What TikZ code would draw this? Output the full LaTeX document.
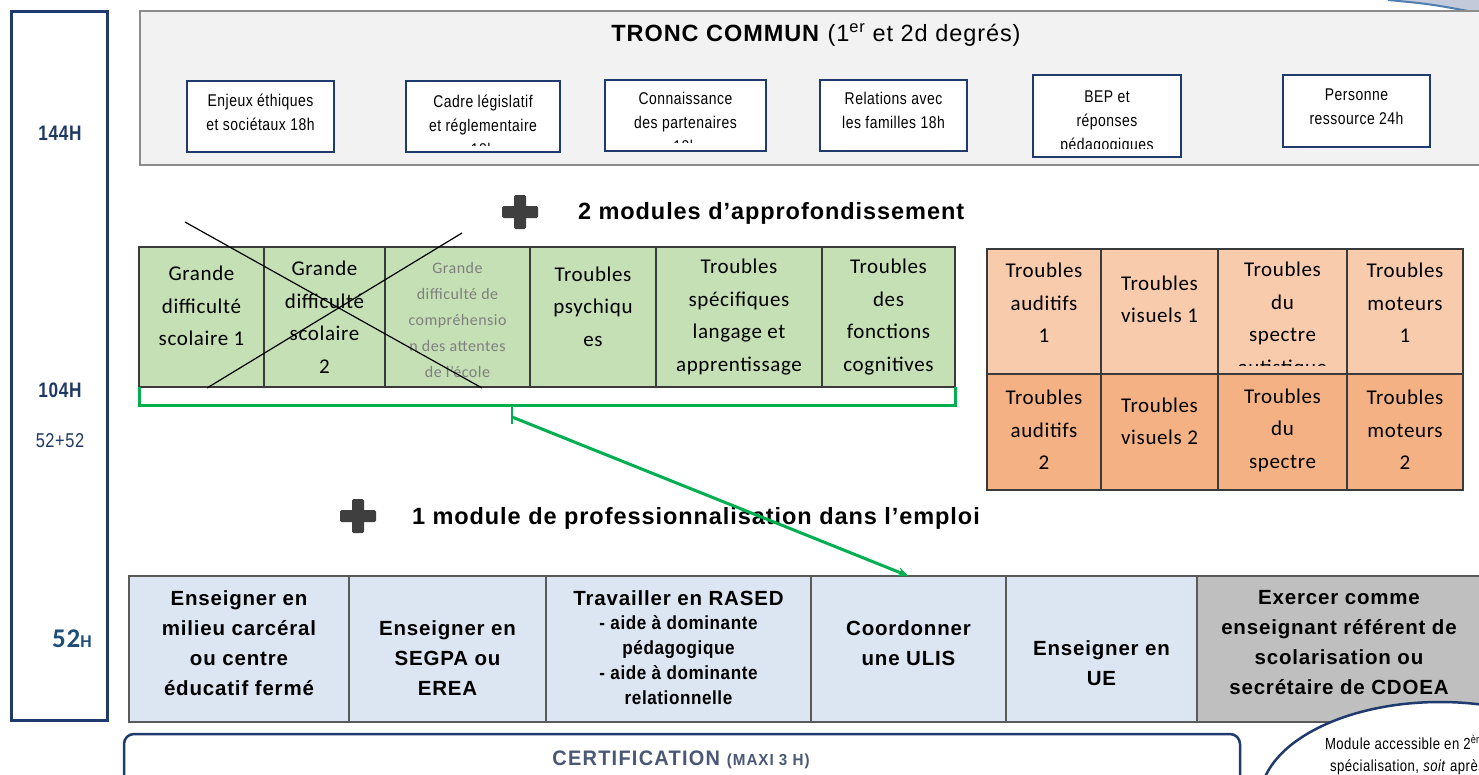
\documentclass[tikz,border=0pt]{standalone}
\usepackage{fontspec}
\usetikzlibrary{arrows.meta,shapes.geometric}
\setmainfont{Liberation Sans}
\newfontfamily\arsp[LetterSpace=4]{Liberation Sans}
\newfontfamily\arnar[FakeStretch=0.82,LetterSpace=3]{Liberation Sans}
\newfontfamily\arnarB[FakeStretch=0.9,LetterSpace=3]{Liberation Sans}
\newfontfamily\arwide[FakeStretch=0.95,LetterSpace=6]{Liberation Sans}
\newfontfamily\calib[LetterSpace=3]{Carlito}
\definecolor{cNavy}{HTML}{1F3A6E}
\definecolor{cGrayLine}{HTML}{8C8C8C}
\definecolor{cGrayFill}{HTML}{F2F2F2}
\definecolor{cGreen}{HTML}{C5E0B4}
\definecolor{cGreenLine}{HTML}{00B050}
\definecolor{cOrA}{HTML}{F8CBAD}
\definecolor{cOrB}{HTML}{F4B183}
\definecolor{cBlueCell}{HTML}{DCE6F2}
\definecolor{cGrayCell}{HTML}{BFBFBF}
\definecolor{cCellLine}{HTML}{3A3A3A}
\definecolor{cBCellLine}{HTML}{5A5A5A}
\definecolor{cPlus}{HTML}{3F3F3F}
\definecolor{cCert}{HTML}{4A5875}
\definecolor{cHour}{HTML}{1F3864}
\definecolor{cFiftyTwo}{HTML}{1F4E79}
\definecolor{cCornerFill}{HTML}{C3CAD9}
\definecolor{cCornerLine}{HTML}{4F7FB0}
\definecolor{cGrayText}{HTML}{7F7F7F}
\begin{document}
\begin{tikzpicture}[x=1pt,y=-1pt,
  every node/.style={inner sep=0pt,outer sep=0pt},
  hrbox/.style={draw=cNavy,line width=3pt,fill=white,anchor=north west},
  hrtext/.style={text=cHour,font=\arnar\bfseries\fontsize{21}{24}\selectfont},
  tcbox/.style={draw=cGrayLine,line width=2pt,fill=cGrayFill,anchor=north west},
  sbox/.style={draw=cNavy,line width=2.5pt,fill=white},
  stext/.style={align=center,text=black,font=\arnar\fontsize{17}{24}\selectfont},
  heading/.style={anchor=west,text=black,font=\arsp\bfseries\fontsize{23.5}{28}\selectfont},
  gcell/.style={draw=cCellLine,line width=1.3pt,fill=cGreen,anchor=north west,minimum height=140},
  gtext/.style={align=center,text=black,font=\calib\fontsize{21}{32.5}\selectfont},
  ocellA/.style={draw=cCellLine,line width=1.3pt,fill=cOrA,anchor=north west,minimum height=125},
  ocellB/.style={draw=cCellLine,line width=1.3pt,fill=cOrB,anchor=north west,minimum height=116},
  bcell/.style={draw=cBCellLine,line width=2pt,fill=cBlueCell,anchor=north west,minimum height=146},
  btext/.style={align=center,text=black,font=\arsp\bfseries\fontsize{20.5}{30}\selectfont},
  cross/.style={draw=black,line width=1.2pt},
  greenline/.style={draw=cGreenLine,line width=3pt},
  plusfill/.style={fill=cPlus}
]
\useasboundingbox (0,0) rectangle (1479,774);
\clip (0,0) rectangle (1479,774);
\fill[white] (0,0) rectangle (1479,774);

% corner shape top right
\fill[cCornerFill] (1388,0) .. controls (1430,4) .. (1479,13) -- (1479,0) -- cycle;
\draw[cCornerLine,line width=2pt] (1388,0) .. controls (1430,4) .. (1479,13);

% hours column
\node[hrbox,minimum width=96,minimum height=709] (hours) at (11.5,11.5) {};
\node[hrtext] (h144) at (60,133) {144H};
\node[hrtext] (h104) at (60,390) {104H};
\node[text=cHour,font=\arnar\fontsize{20}{24}\selectfont] (h5252) at (60,441) {52+52};
\node[text=cFiftyTwo,font=\calib\bfseries] (h52) at (72,639) {\fontsize{27}{28}\selectfont 52\fontsize{18}{28}\selectfont H};

% tronc commun
\node[tcbox,minimum width=1350,minimum height=154] (tc) at (140,11) {};
\node[text=black,font=\arsp\fontsize{23.5}{28}\selectfont] (tct) at (816,35) {\textbf{TRONC COMMUN} (1\textsuperscript{er} et 2d degrés)};

\node[sbox,minimum width=147,minimum height=71] (s1) at (260.5,116.5) {};
\node[stext] (s1t) at (260.5,112) {Enjeux éthiques\\et sociétaux 18h};

\node[sbox,minimum width=154,minimum height=71] (s2) at (483,116.5) {};
\begin{scope}
\clip (408,83) rectangle (558,145);
\node[stext] (s2t) at (483,125) {Cadre législatif\\et réglementaire\\18h};
\end{scope}

\node[sbox,minimum width=161,minimum height=71] (s3) at (685.5,115.5) {};
\begin{scope}
\clip (607,82) rectangle (764,142);
\node[stext] (s3t) at (685.5,122) {Connaissance\\des partenaires\\18h};
\end{scope}

\node[sbox,minimum width=147,minimum height=71] (s4) at (893.5,115.5) {};
\node[stext] (s4t) at (893.5,110) {Relations avec\\les familles 18h};

\node[sbox,minimum width=148,minimum height=82] (s5) at (1107,116) {};
\begin{scope}
\clip (1035,77) rectangle (1179,148);
\node[stext] (s5t) at (1107,122) {BEP et\\réponses\\pédagogiques};
\end{scope}

\node[sbox,minimum width=147,minimum height=72] (s6) at (1356.5,111) {};
\node[stext] (s6t) at (1356.5,107) {Personne\\ressource 24h};

% plus 1 and heading
\fill[plusfill,rounded corners=1.5pt] (514,195) rectangle (526,229);
\fill[plusfill,rounded corners=1.5pt] (502,206) rectangle (538,218);
\node[heading] (mod2) at (578,213) {2 modules d’approfondissement};

% green table
\node[gcell,minimum width=125] (g1) at (139,247) {};
\node[gcell,minimum width=121] (g2) at (264,247) {};
\node[gcell,minimum width=145] (g3) at (385,247) {};
\node[gcell,minimum width=126] (g4) at (530,247) {};
\node[gcell,minimum width=166] (g5) at (656,247) {};
\node[gcell,minimum width=133] (g6) at (822,247) {};
\node[gtext] (g1t) at (201.5,306) {Grande\\difficulté\\scolaire 1};
\node[gtext] (g2t) at (324.5,317) {Grande\\difficulté\\scolaire\\2};
\node[align=center,text=cGrayText,font=\calib\fontsize{16}{26}\selectfont] (g3t) at (457.5,320) {Grande\\difficulté de\\compréhensio\\n des attentes\\de l’école};
\node[gtext] (g4t) at (593,306.5) {Troubles\\psychiqu\\es};
\node[gtext] (g5t) at (739,317) {Troubles\\spécifiques\\langage et\\apprentissage};
\node[gtext] (g6t) at (888.5,317) {Troubles\\des\\fonctions\\cognitives};

\coordinate (xa1) at (185,222);
\coordinate (xa2) at (482,388);
\coordinate (xb1) at (462,233);
\coordinate (xb2) at (207,388);
\draw[cross] (xa1) -- (xa2);
\draw[cross] (xb1) -- (xb2);

% green bracket
\draw[greenline] (g1.south west) -- ++(0,18) -| (g6.south east);
\coordinate (tk1) at (512,405);
\coordinate (tk2) at (512,424);
\coordinate (arrs) at (512,417);
\draw[cGreenLine,line width=2pt] (tk1) -- (tk2);

% orange table
\node[ocellA,minimum width=114] (o1) at (987,249) {};
\node[ocellA,minimum width=117] (o2) at (1101,249) {};
\node[ocellA,minimum width=129] (o3) at (1218,249) {};
\node[ocellA,minimum width=116] (o4) at (1347,249) {};
\node[ocellB,minimum width=114] (o5) at (987,374) {};
\node[ocellB,minimum width=117] (o6) at (1101,374) {};
\node[ocellB,minimum width=129] (o7) at (1218,374) {};
\node[ocellB,minimum width=116] (o8) at (1347,374) {};
\node[gtext] (o1t) at (1044,303) {Troubles\\auditifs\\1};
\node[gtext] (o2t) at (1159.5,299.5) {Troubles\\visuels 1};
\begin{scope}
\clip (1220,251) rectangle (1345,365);
\node[gtext] (o3t) at (1282.5,320) {Troubles\\du\\spectre\\autistique};
\end{scope}
\node[gtext] (o4t) at (1405,303) {Troubles\\moteurs\\1};
\node[gtext] (o5t) at (1044,430) {Troubles\\auditifs\\2};
\node[gtext] (o6t) at (1159.5,421.5) {Troubles\\visuels 2};
\node[gtext] (o7t) at (1282.5,430) {Troubles\\du\\spectre};
\node[gtext] (o8t) at (1405,430) {Troubles\\moteurs\\2};

% plus 2 and heading
\fill[plusfill,rounded corners=1.5pt] (352,499) rectangle (364,533);
\fill[plusfill,rounded corners=1.5pt] (340,510) rectangle (376,522);
\node[heading] (mod1) at (412,518) {1 module de professionnalisation dans l’emploi};

% blue table
\node[bcell,minimum width=220] (b1) at (129,576) {};
\node[bcell,minimum width=197] (b2) at (349,576) {};
\node[bcell,minimum width=265] (b3) at (546,576) {};
\node[bcell,minimum width=195] (b4) at (811,576) {};
\node[bcell,minimum width=191] (b5) at (1006,576) {};
\node[bcell,minimum width=290,fill=cGrayCell] (b6) at (1197,576) {};
\node[btext] (b1t) at (239,643) {Enseigner en\\milieu carcéral\\ou centre\\éducatif fermé};
\node[btext] (b2t) at (447.5,658) {Enseigner en\\SEGPA ou\\EREA};
\node[btext] (b3t) at (678.5,598) {Travailler en RASED};
\node[align=center,text=black,font=\arnarB\bfseries\fontsize{19}{25}\selectfont] (b3s) at (678.5,660) {- aide à dominante\\pédagogique\\- aide à dominante\\relationnelle};
\node[btext] (b4t) at (908.5,643) {Coordonner\\une ULIS};
\node[btext] (b5t) at (1101.5,663) {Enseigner en\\UE};
\node[btext] (b6t) at (1339,643) {Exercer comme\\enseignant référent de\\scolarisation ou\\secrétaire de CDOEA};

% green arrow
\draw[cGreenLine,line width=3pt,-{Stealth[length=11pt,width=9pt]}] (arrs) -- (b4.north);

% certification
\node[draw=cNavy,line width=2.5pt,rounded corners=10pt,fill=white,anchor=north west,minimum width=1116,minimum height=60] (cert) at (124,734) {};
\node[text=cCert,font=\arwide\bfseries] (certt) at (681,760) {\fontsize{21}{24}\selectfont CERTIFICATION \fontsize{16}{24}\selectfont(MAXI 3 H)};

% ellipse note
\node[draw=cNavy,line width=2.5pt,fill=white,ellipse,minimum width=360,minimum height=196] (ell) at (1440,800) {};
\node[anchor=north west,align=left,text=black,font=\arnar\fontsize{16}{22}\selectfont] (ellt) at (1325,735) {Module accessible en 2\textsuperscript{ème}\\\hspace*{5pt}spécialisation, \textit{soit} après};
\end{tikzpicture}
\end{document}
